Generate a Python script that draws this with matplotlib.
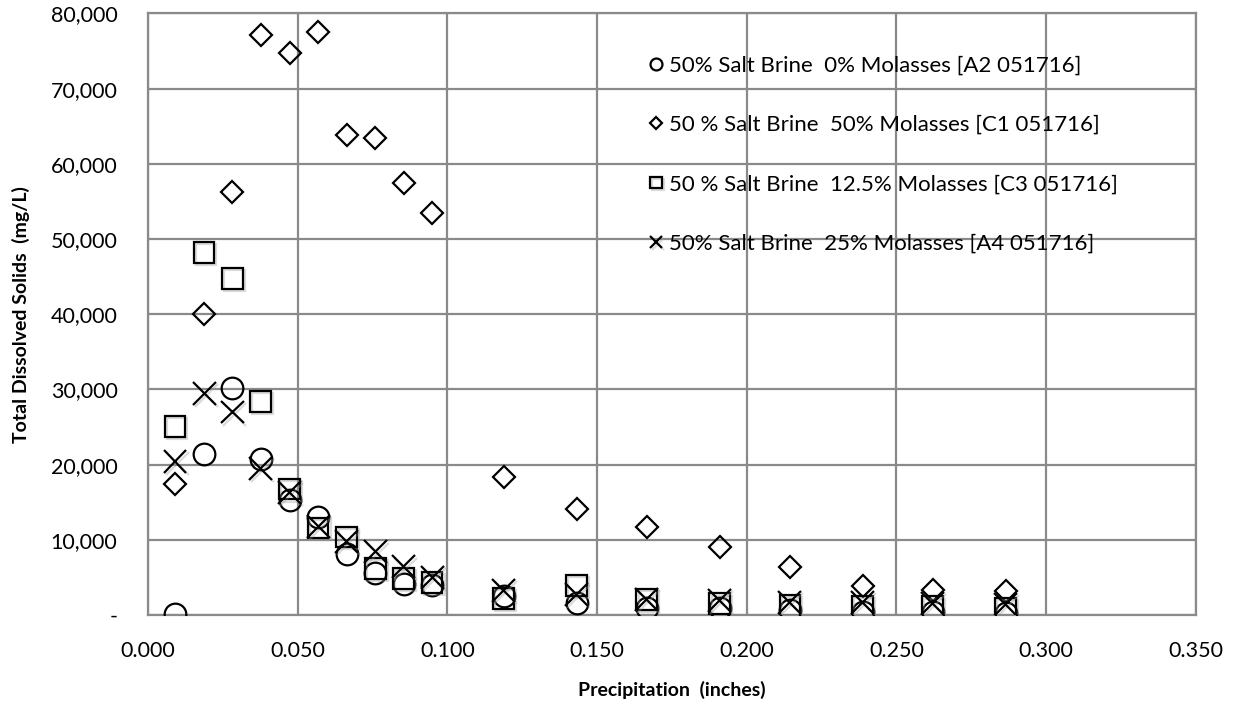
import matplotlib
matplotlib.use("Agg")
import matplotlib.pyplot as plt
from matplotlib.ticker import FuncFormatter, MultipleLocator
import matplotlib.patheffects as pe

plt.rcParams['font.family'] = ['Lato', 'DejaVu Sans']

# Cumulative precipitation (inches)
precip = [0.0090, 0.0187, 0.0281, 0.0376, 0.0473, 0.0568, 0.0664, 0.0759, 0.0854, 0.0949,
          0.1188, 0.1432, 0.1666, 0.1910, 0.2144, 0.2387, 0.2621, 0.2865]

# Total dissolved solids (mg/L) for each brine mixture
tds_a2 = [100, 21400, 30150, 20750, 15300, 13100, 8100, 5600, 4200, 4000,
          2500, 1550, 1000, 900, 650, 450, 420, 300]
tds_c1 = [17400, 40100, 56200, 77100, 74800, 77500, 63800, 63500, 57500, 53500,
          18400, 14100, 11750, 9100, 6400, 3860, 3300, 3250]
tds_c3 = [25050, 48200, 44800, 28400, 16750, 11600, 10400, 6200, 4900, 4300,
          2200, 3900, 2100, 1500, 1300, 1150, 1100, 900]
tds_a4 = [20400, 29500, 27000, 19500, 16300, 11750, 9800, 8400, 6400, 5000,
          3300, 2700, 2100, 2000, 1700, 1700, 1600, 1400]

labels = [
    "50% Salt Brine  0% Molasses [A2 051716]",
    "50 % Salt Brine  50% Molasses [C1 051716]",
    "50 % Salt Brine  12.5% Molasses [C3 051716]",
    "50% Salt Brine  25% Molasses [A4 051716]",
]

fig = plt.figure(figsize=(12.34, 7.07), dpi=100)
ax = fig.add_axes([0.120, 0.130, 0.849, 0.851])

grid_c = '#8a8a8a'
shadow = [pe.SimpleLineShadow(offset=(1.5, -1.5), shadow_color='#9a9a9a', alpha=0.35),
          pe.Normal()]

ax.plot(precip, tds_a2, linestyle='none', marker='o', markersize=15.6,
        markerfacecolor='none', markeredgecolor='black', markeredgewidth=1.6,
        label=labels[0], zorder=3)
ax.plot(precip, tds_c1, linestyle='none', marker='D', markersize=10.7,
        markerfacecolor='none', markeredgecolor='black', markeredgewidth=1.6,
        label=labels[1], zorder=3)
ax.plot(precip, tds_c3, linestyle='none', marker='s', markersize=14.9,
        markerfacecolor='none', markeredgecolor='black', markeredgewidth=1.6,
        label=labels[2], zorder=3, path_effects=shadow)
ax.plot(precip, tds_a4, linestyle='none', marker='x', markersize=16.5,
        markeredgecolor='black', markeredgewidth=1.6,
        label=labels[3], zorder=3, path_effects=shadow)

ax.set_xlim(0, 0.35)
ax.set_ylim(0, 80000)
ax.xaxis.set_major_locator(MultipleLocator(0.05))
ax.yaxis.set_major_locator(MultipleLocator(10000))
ax.xaxis.set_major_formatter(FuncFormatter(lambda v, p: f"{v:.3f}"))
ax.yaxis.set_major_formatter(FuncFormatter(lambda v, p: "-" if abs(v) < 1e-9 else f"{v:,.0f}"))

ax.grid(True, color=grid_c, linewidth=1.6)
ax.set_axisbelow(True)
for side in ['left', 'bottom', 'top', 'right']:
    ax.spines[side].set_color(grid_c)
    ax.spines[side].set_linewidth(1.6)
ax.tick_params(axis='both', length=0, labelsize=15.5, colors='black')
ax.tick_params(axis='x', pad=19)
ax.tick_params(axis='y', pad=22)

ax.set_xlabel("Precipitation  (inches)", fontsize=14, fontweight='bold', labelpad=14)
ax.set_ylabel("Total Dissolved Solids  (mg/L)", fontsize=14, fontweight='bold', labelpad=15)

leg = ax.legend(loc='upper left', bbox_to_anchor=(0.470, 0.9445), frameon=False,
                fontsize=16, markerscale=0.55, handlelength=0.6, handletextpad=0.28,
                labelspacing=1.77, borderaxespad=0)

fig.savefig("out.png", dpi=100)
